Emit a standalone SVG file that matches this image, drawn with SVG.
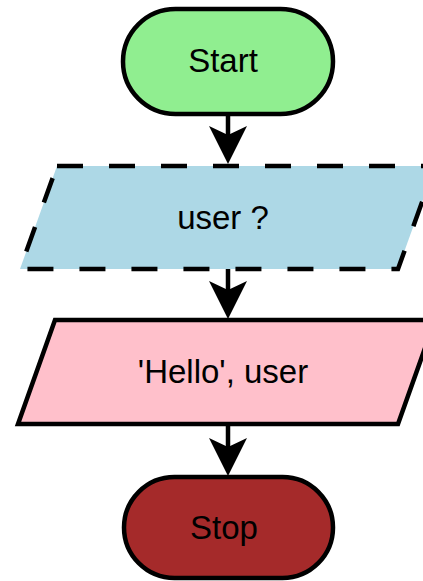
<svg xmlns="http://www.w3.org/2000/svg" width="423" height="581" viewBox="0 0 423 581">
  <style>
    .shape { stroke: #000; stroke-width: 4.5; stroke-linejoin: miter; }
    .dashed { stroke-dasharray: 26 26; }
    .label { font-family: "Liberation Sans", Arial, sans-serif; font-size: 33px; fill: #000; text-anchor: middle; }
    .conn { stroke: #000; stroke-width: 4.5; fill: none; }
    .head { fill: #000; stroke: none; }
  </style>
  <defs>
    <path id="arrowhead" class="head" d="M-19,-38 L0,0 L19,-38 L0,-29 Z"/>
  </defs>
  <rect width="423" height="581" fill="#fff"/>
  <g id="connectors">
    <line class="conn" x1="228" y1="114" x2="228" y2="150"/>
    <use href="#arrowhead" x="228" y="164"/>
    <line class="conn" x1="228" y1="269" x2="228" y2="305"/>
    <use href="#arrowhead" x="228" y="319"/>
    <line class="conn" x1="228" y1="424" x2="228" y2="462"/>
    <use href="#arrowhead" x="228" y="476"/>
  </g>
  <g id="start">
    <rect class="shape" x="123" y="9" width="210" height="105" rx="52.5" ry="52.5" fill="#90EE90"/>
    <text class="label" x="223" y="72">Start</text>
  </g>
  <g id="input">
    <polygon class="shape dashed" points="57,166 435,166 398,269 20,269" fill="#ADD8E6"/>
    <text class="label" x="223" y="229">user ?</text>
  </g>
  <g id="output">
    <polygon class="shape" points="55,320 435,320 398,424 18,424" fill="#FFC0CB"/>
    <text class="label" x="223" y="383">'Hello', user</text>
  </g>
  <g id="stop">
    <rect class="shape" x="124" y="477" width="209" height="101" rx="50.5" ry="50.5" fill="#A52A2A"/>
    <text class="label" x="224" y="539">Stop</text>
  </g>
</svg>
